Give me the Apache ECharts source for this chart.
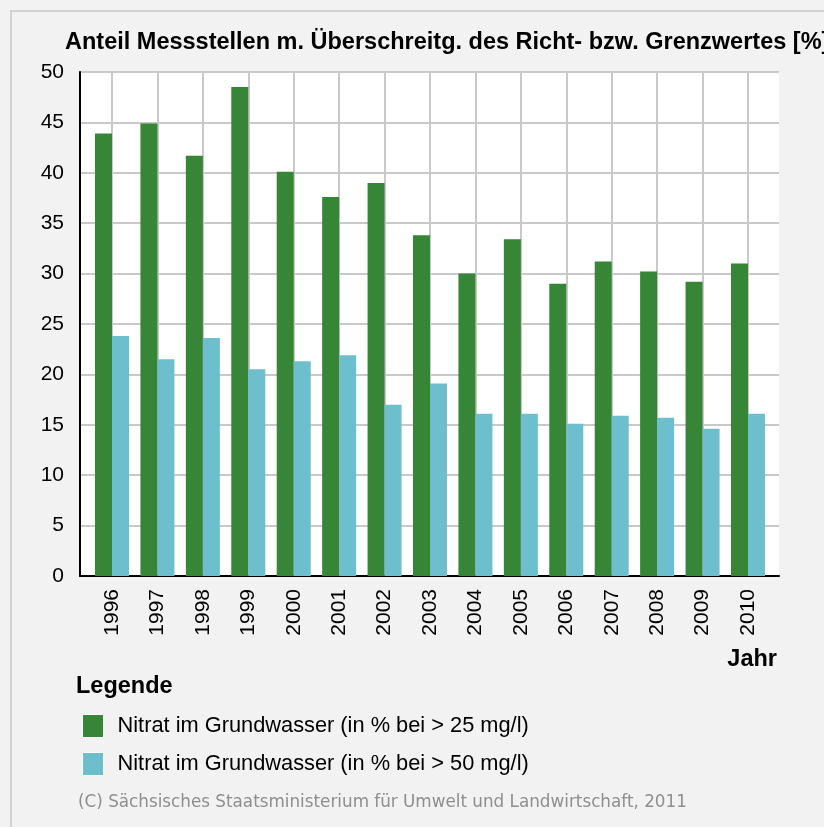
<!DOCTYPE html>
<html>
<head>
<meta charset="utf-8">
<script src="https://cdn.jsdelivr.net/npm/echarts@6/dist/echarts.min.js"></script>
<style>
html,body{margin:0;padding:0;background:#f2f2f2;width:824px;height:827px;overflow:hidden;}
#frame{position:absolute;left:10px;top:10px;width:830px;height:830px;border-left:2px solid #d2d2d2;border-top:2px solid #d2d2d2;box-sizing:border-box;}
#c{position:absolute;left:0;top:0;width:824px;height:827px;}
</style>
</head>
<body>
<div id="frame"></div>
<div id="c"></div>
<script>
const titleText = 'Anteil Messstellen m. Überschreitg. des Richt- bzw. Grenzwertes [%]';
const years = ['1996','1997','1998','1999','2000','2001','2002','2003','2004','2005','2006','2007','2008','2009','2010'];
const over25 = [43.9, 44.9, 41.7, 48.5, 40.1, 37.6, 39.0, 33.8, 30.0, 33.4, 29.0, 31.2, 30.2, 29.2, 31.0];
const over50 = [23.8, 21.5, 23.6, 20.5, 21.3, 21.9, 17.0, 19.1, 16.1, 16.1, 15.1, 15.9, 15.7, 14.6, 16.1];
const seriesNames = ['Nitrat im Grundwasser (in % bei > 25 mg/l)', 'Nitrat im Grundwasser (in % bei > 50 mg/l)'];
const xName = 'Jahr';
const legendTitle = 'Legende';
const footer = '(C) Sächsisches Staatsministerium für Umwelt und Landwirtschaft, 2011';
const yMin = 0, yMax = 50, yStep = 5;

const FONT = '"Liberation Sans", Arial, sans-serif';
const GREEN = '#378536';
const CYAN = '#6dbfcd';
const GRIDC = '#c9c9c9';

const chart = echarts.init(document.getElementById('c'), null, {renderer: 'canvas'});
chart.setOption({
  animation: false,
  textStyle: {fontFamily: FONT},
  title: [
    {text: titleText, left: 65, top: 31, padding: 0,
     textStyle: {fontFamily: FONT, fontSize: 23.5, fontWeight: 'bold', color: '#000'}},
    {text: legendTitle, left: 76, top: 675, padding: 0,
     textStyle: {fontFamily: FONT, fontSize: 23.5, fontWeight: 'bold', color: '#000'}},
    {text: footer, left: 78, top: 794, padding: 0,
     textStyle: {fontFamily: '"DejaVu Sans", sans-serif', fontSize: 16.8, fontWeight: 'normal', color: '#8e8e8e'}}
  ],
  legend: {
    orient: 'vertical', left: 82, top: 714, padding: 0,
    itemWidth: 21, itemHeight: 23, itemGap: 14, icon: 'rect',
    itemStyle: {borderColor: '#ffffff', borderWidth: 1},
    textStyle: {fontFamily: FONT, fontSize: 21.8, color: '#000', padding: [0, 0, 0, 9]},
    data: seriesNames,
    selectedMode: false
  },
  grid: [
    {left: 80, right: 45, top: 72, bottom: 251, show: true, backgroundColor: '#ffffff', borderWidth: 0},
    {left: 89.3, right: 53.3, top: 72, bottom: 251}
  ],
  xAxis: [
    {gridIndex: 0, type: 'value', min: 0, max: 1,
     axisLine: {show: true, onZero: false, lineStyle: {color: '#000', width: 2}},
     axisTick: {show: false}, axisLabel: {show: false}, splitLine: {show: false},
     name: xName, nameLocation: 'end', nameGap: -2,
     nameTextStyle: {fontFamily: FONT, fontSize: 23.5, fontWeight: 'bold', color: '#000',
       align: 'right', verticalAlign: 'top', padding: [72, 0, 0, 0]}},
    {gridIndex: 1, type: 'category', data: years, boundaryGap: true,
     axisLine: {show: false}, axisTick: {show: false},
     axisLabel: {rotate: 90, margin: 13, fontFamily: FONT, fontSize: 21, color: '#000'},
     splitLine: {show: true, alignWithLabel: true, lineStyle: {color: GRIDC, width: 2}}}
  ],
  yAxis: [
    {gridIndex: 0, type: 'value', min: yMin, max: yMax, interval: yStep,
     axisLine: {show: true, lineStyle: {color: '#000', width: 2}},
     axisTick: {show: false},
     axisLabel: {margin: 16, fontFamily: FONT, fontSize: 21, color: '#000'},
     splitLine: {show: true, lineStyle: {color: GRIDC, width: 2}}},
    {gridIndex: 1, type: 'value', min: yMin, max: yMax, interval: yStep, show: false}
  ],
  series: [
    {name: seriesNames[0], type: 'bar', xAxisIndex: 1, yAxisIndex: 1, data: over25,
     barWidth: 17, barGap: '0%', itemStyle: {color: GREEN}},
    {name: seriesNames[1], type: 'bar', xAxisIndex: 1, yAxisIndex: 1, data: over50,
     barWidth: 17, barGap: '0%', itemStyle: {color: CYAN}}
  ]
});
</script>
</body>
</html>
